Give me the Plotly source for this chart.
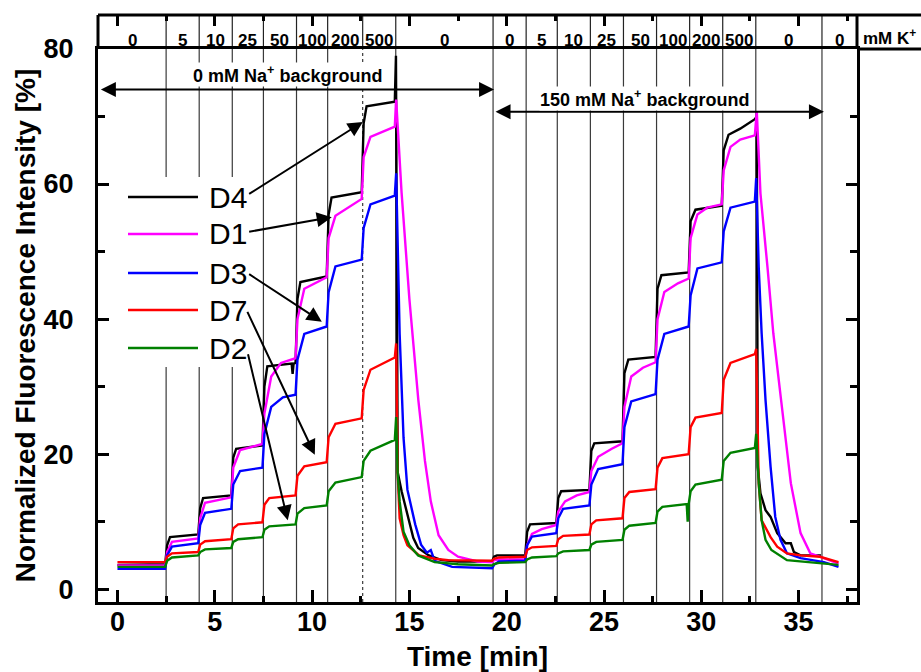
import plotly.graph_objects as go

# ---------------- data (time [min], normalized fluorescence [%]) ----------------
D4 = [(0, 3.6), (2.45, 3.7), (2.55, 6.5), (2.7, 7.7), (4.15, 8.1),
      (4.25, 12.0), (4.4, 13.5), (5.85, 13.9),
      (5.95, 19.5), (6.1, 20.8), (7.45, 21.3),
      (7.55, 30.0), (7.7, 33.0), (8.95, 33.4), (9.0, 31.9), (9.05, 33.4), (9.15, 33.5),
      (9.25, 43.0), (9.4, 45.5), (10.75, 46.3),
      (10.85, 55.5), (11.0, 58.0), (12.55, 58.8),
      (12.65, 69.0), (12.8, 71.5), (14.25, 72.2), (14.31, 79.0), (14.36, 20.0),
      (14.4, 17.3), (14.6, 14.5), (14.95, 10.5), (15.2, 7.6), (15.45, 6.1), (16.0, 5.0),
      (16.65, 4.3), (17.5, 4.1), (19.25, 4.1),
      (19.35, 4.8), (19.5, 5.0), (20.95, 5.0),
      (21.05, 8.5), (21.2, 9.6), (22.55, 9.8),
      (22.65, 13.5), (22.8, 14.5), (24.25, 14.7),
      (24.35, 20.5), (24.5, 21.6), (25.95, 21.9),
      (26.05, 32.0), (26.25, 34.0), (27.65, 34.4),
      (27.75, 44.5), (27.95, 46.5), (29.35, 46.9),
      (29.45, 54.5), (29.7, 56.2), (31.05, 56.8),
      (31.15, 65.0), (31.4, 67.3), (32.0, 68.2), (32.75, 69.6), (32.85, 70.0),
      (32.9, 18.1), (33.04, 14.2), (33.3, 11.7), (33.56, 10.7), (33.9, 8.3),
      (34.33, 6.8), (34.6, 6.8), (34.76, 5.5), (35.1, 5.0), (36.15, 5.0)]

D1 = [(0, 3.5), (2.45, 3.5), (2.55, 5.5), (2.8, 7.0), (4.15, 7.5),
      (4.25, 10.5), (4.5, 12.8), (5.85, 13.6),
      (5.95, 18.0), (6.3, 20.6), (7.45, 21.5),
      (7.55, 26.0), (7.9, 31.5), (8.4, 33.5), (9.15, 34.2),
      (9.25, 40.0), (9.6, 44.5), (10.75, 46.2),
      (10.85, 52.0), (11.2, 55.3), (12.55, 57.8),
      (12.65, 64.0), (13.0, 67.0), (14.25, 68.5), (14.32, 72.5),
      (14.45, 66.0), (14.6, 58.7), (15.0, 43.0), (15.46, 28.0), (15.8, 19.0),
      (16.1, 13.0), (16.5, 8.0), (17.0, 5.8), (17.5, 4.8), (18.5, 4.1), (19.25, 4.0),
      (19.35, 4.3), (19.6, 4.4), (20.95, 4.4),
      (21.05, 6.5), (21.3, 8.2), (21.8, 8.9), (22.55, 9.5),
      (22.65, 11.5), (23.0, 13.0), (23.6, 13.9), (24.25, 14.4),
      (24.35, 17.5), (24.7, 19.6), (25.4, 20.8), (25.95, 21.6),
      (26.05, 27.0), (26.4, 31.5), (27.0, 32.8), (27.65, 33.6),
      (27.75, 40.0), (28.1, 44.0), (28.8, 45.3), (29.35, 46.0),
      (29.45, 52.0), (29.8, 55.5), (30.3, 56.5), (31.05, 57.0),
      (31.15, 62.0), (31.5, 65.5), (32.0, 66.6), (32.75, 67.2), (32.85, 70.8),
      (33.04, 58.6), (33.4, 47.7), (33.7, 37.9), (34.1, 28.0), (34.6, 15.7),
      (35.1, 8.3), (35.6, 5.3), (36.3, 4.6), (37.05, 3.8)]

D3 = [(0, 3.0), (2.45, 3.0), (2.55, 5.0), (2.8, 6.3), (4.15, 6.8),
      (4.25, 9.5), (4.5, 11.3), (5.85, 11.9),
      (5.95, 15.5), (6.3, 17.5), (7.45, 18.0),
      (7.55, 23.0), (7.9, 27.0), (8.5, 28.4), (9.15, 28.8),
      (9.25, 34.0), (9.6, 37.8), (10.75, 38.9),
      (10.85, 44.0), (11.2, 47.8), (12.55, 48.8),
      (12.65, 53.5), (13.0, 57.0), (14.25, 58.3), (14.32, 61.6),
      (14.5, 37.8), (14.7, 22.4), (14.9, 14.7), (15.3, 9.6), (15.6, 6.6),
      (15.9, 5.4), (16.1, 5.8), (16.3, 4.2), (17.2, 3.3), (19.25, 3.1),
      (19.35, 3.6), (19.6, 4.1), (20.95, 4.2),
      (21.05, 6.5), (21.3, 7.8), (22.55, 8.3),
      (22.65, 10.5), (22.9, 11.9), (24.25, 12.4),
      (24.35, 15.5), (24.7, 17.8), (25.95, 18.5),
      (26.05, 24.0), (26.4, 27.8), (27.65, 28.9),
      (27.75, 34.0), (28.1, 37.8), (29.35, 38.9),
      (29.45, 43.5), (29.8, 47.5), (31.05, 48.4),
      (31.15, 53.0), (31.5, 56.5), (32.75, 57.4), (32.82, 60.9),
      (32.95, 47.7), (33.1, 37.9), (33.3, 28.0), (33.56, 18.1), (33.8, 10.7),
      (34.07, 7.3), (34.4, 5.3), (35.1, 4.6), (36.3, 4.0), (37.05, 3.3)]

D7 = [(0, 4.0), (2.45, 4.0), (2.55, 4.8), (2.8, 5.3), (4.15, 5.5),
      (4.25, 6.6), (4.5, 7.1), (5.85, 7.4),
      (5.95, 9.0), (6.2, 9.6), (7.45, 9.9),
      (7.55, 12.5), (7.8, 13.5), (9.15, 13.9),
      (9.25, 16.8), (9.6, 18.2), (10.75, 18.8),
      (10.85, 22.5), (11.2, 24.5), (12.55, 25.3),
      (12.65, 29.5), (13.0, 32.5), (14.25, 34.3), (14.32, 36.4),
      (14.4, 17.0), (14.5, 10.5), (14.7, 8.0), (14.9, 6.5), (15.5, 5.0),
      (16.3, 4.5), (17.0, 4.3), (19.25, 4.2),
      (19.35, 4.5), (19.6, 4.7), (20.95, 4.8),
      (21.05, 5.8), (21.3, 6.2), (22.55, 6.4),
      (22.65, 7.4), (22.9, 7.9), (24.25, 8.1),
      (24.35, 9.6), (24.6, 10.2), (25.95, 10.5),
      (26.05, 13.5), (26.3, 14.4), (27.65, 14.8),
      (27.75, 18.0), (28.0, 19.4), (29.35, 20.0),
      (29.45, 24.0), (29.7, 25.4), (31.05, 26.1),
      (31.15, 31.0), (31.5, 33.5), (32.75, 34.8), (32.82, 35.6),
      (32.95, 15.7), (33.1, 10.2), (33.3, 9.2), (33.56, 7.7), (33.9, 6.3),
      (34.4, 5.3), (35.1, 5.0), (36.1, 4.8), (37.05, 4.0)]

D2 = [(0, 3.3), (2.45, 3.3), (2.55, 4.2), (2.8, 4.7), (4.15, 5.0),
      (4.25, 5.5), (4.5, 5.9), (5.85, 6.1),
      (5.95, 7.0), (6.2, 7.4), (7.45, 7.7),
      (7.55, 8.8), (7.8, 9.3), (9.15, 9.6),
      (9.25, 11.2), (9.6, 12.0), (10.75, 12.4),
      (10.85, 14.5), (11.2, 15.8), (12.55, 16.6),
      (12.65, 19.0), (13.0, 20.5), (14.25, 22.1), (14.32, 25.5),
      (14.4, 17.0), (14.5, 13.0), (14.7, 8.5), (15.0, 6.5), (15.45, 5.0),
      (16.3, 4.0), (17.5, 3.7), (19.25, 3.5),
      (19.35, 3.7), (19.6, 3.9), (20.95, 4.0),
      (21.05, 4.4), (21.3, 4.7), (22.55, 4.9),
      (22.65, 5.3), (22.9, 5.6), (24.25, 5.8),
      (24.35, 6.6), (24.6, 7.0), (25.95, 7.3),
      (26.05, 8.8), (26.3, 9.4), (27.65, 9.8),
      (27.75, 11.5), (28.0, 12.2), (29.25, 12.6), (29.3, 10.0), (29.35, 12.6),
      (29.45, 14.5), (29.7, 15.5), (31.05, 16.2),
      (31.15, 19.0), (31.5, 20.2), (32.75, 20.9), (32.82, 23.0),
      (32.95, 15.7), (33.1, 10.2), (33.3, 7.3), (33.6, 5.8), (34.4, 4.3),
      (35.5, 4.0), (37.05, 3.6)]

series_names = ["D4", "D1", "D3", "D7", "D2"]
series_data = [D4, D1, D3, D7, D2]
series_colors = ["#000000", "#ff00ff", "#0000ff", "#ff0000", "#008000"]

# K+ concentration changes (solution switch times, min) and band labels (mM K+)
switch_times = [2.5, 4.2, 5.9, 7.5, 9.2, 10.8, 12.6, 14.3, 19.3,
                21.0, 22.6, 24.3, 26.0, 27.7, 29.4, 31.1, 32.8, 36.2]
k_labels = ["0", "5", "10", "25", "50", "100", "200", "500", "0",
            "0", "5", "10", "25", "50", "100", "200", "500", "0", "0"]

x_range = [-1.0, 38.0]
y_range = [-1.9, 80.0]

# ---------------- geometry helpers (pixels -> paper) ----------------
W, H = 921, 672
ML, MR, MT, MB = 98, 64, 15, 70
PW, PH = W - ML - MR, H - MT - MB
Y_TOP = 49  # pixel y of main plot top
DOM_TOP = (H - MB - Y_TOP) / PH


def px(x):
    return (x - ML) / PW


def py(y):
    return (H - MB - y) / PH


FONT = "Liberation Sans, Arial, sans-serif"

fig = go.Figure()
for name, data, col in zip(series_names, series_data, series_colors):
    t, v = zip(*data)
    fig.add_trace(go.Scatter(x=list(t), y=list(v), mode="lines", name=name,
                             line=dict(color=col, width=2.4), showlegend=False))
# empty trace so that the top (band) time axis gets drawn
fig.add_trace(go.Scatter(x=[], y=[], xaxis="x2", yaxis="y", showlegend=False, hoverinfo="skip"))

shapes = []
# separators in plot area and in the top band
for ts in switch_times:
    dotted = abs(ts - 12.6) < 1e-9
    shapes.append(dict(type="line", xref="x", yref="paper", x0=ts, x1=ts, y0=0, y1=DOM_TOP,
                       line=dict(color="#3a3a3a", width=1.2, dash="dot" if dotted else "solid"),
                       layer="below"))
    shapes.append(dict(type="line", xref="x", yref="paper", x0=ts, x1=ts, y0=DOM_TOP, y1=1,
                       line=dict(color="#222222", width=1.2), layer="below"))

# legend white box
shapes.append(dict(type="rect", xref="paper", yref="paper", x0=px(103), x1=px(251),
                   y0=py(367), y1=py(177), fillcolor="white", line=dict(width=0), layer="below"))

# band border lines
shapes += [
    dict(type="line", xref="paper", yref="paper", x0=0, x1=px(W + 2), y0=1, y1=1,
         line=dict(color="black", width=3)),
    dict(type="line", xref="paper", yref="paper", x0=1, x1=px(W + 2), y0=DOM_TOP, y1=DOM_TOP,
         line=dict(color="black", width=3)),
    dict(type="line", xref="paper", yref="paper", x0=0, x1=0, y0=DOM_TOP, y1=1,
         line=dict(color="black", width=3)),
    dict(type="line", xref="paper", yref="paper", x0=1, x1=1, y0=DOM_TOP, y1=1,
         line=dict(color="black", width=3)),
]

# manual legend sample lines
leg_y = [197, 234, 273, 310, 348]
for yy, col in zip(leg_y, series_colors):
    shapes.append(dict(type="line", xref="paper", yref="paper", x0=px(128), x1=px(198),
                       y0=py(yy), y1=py(yy), line=dict(color=col, width=2.5)))

annotations = []
for yy, name in zip(leg_y, series_names):
    annotations.append(dict(text=name, xref="paper", yref="paper", x=px(207), y=py(yy),
                            xanchor="left", yanchor="middle", showarrow=False,
                            font=dict(family=FONT, size=30, color="black")))

# band labels
edges = [x_range[0]] + switch_times + [x_range[1]]
for i, lab in enumerate(k_labels):
    xc = (edges[i] + edges[i + 1]) / 2
    annotations.append(dict(text=lab, xref="x", yref="paper", x=xc, y=py(40),
                            xanchor="center", yanchor="middle", showarrow=False,
                            font=dict(family=FONT, size=17, color="black", weight="bold")))
annotations.append(dict(text="mM K<sup>+</sup>", xref="paper", yref="paper", x=px(861), y=py(37),
                        xanchor="left", yanchor="middle", showarrow=False,
                        font=dict(family=FONT, size=17, color="black", weight="bold")))

# Na+ background double arrows and labels
annotations.append(dict(x=19.35, y=74.0, ax=-0.93, ay=74.0, xref="x", yref="y", axref="x", ayref="y",
                        text="", showarrow=True, arrowhead=2, arrowside="end+start",
                        arrowsize=1.5, arrowwidth=2, arrowcolor="black"))
annotations.append(dict(x=36.3, y=70.7, ax=19.35, ay=70.7, xref="x", yref="y", axref="x", ayref="y",
                        text="", showarrow=True, arrowhead=2, arrowside="end+start",
                        arrowsize=1.5, arrowwidth=2, arrowcolor="black"))
annotations.append(dict(text="0 mM Na<sup>+</sup> background", xref="x", yref="y", x=8.75, y=76.2,
                        showarrow=False, bgcolor="white", borderpad=0,
                        font=dict(family=FONT, size=18, color="black", weight="bold")))
annotations.append(dict(text="150 mM Na<sup>+</sup> background", xref="x", yref="y", x=27.1, y=72.7,
                        showarrow=False, bgcolor="white", borderpad=0,
                        font=dict(family=FONT, size=18, color="black", weight="bold")))

# legend pointer arrows (head <- tail)
pointers = [((12.61, 69.2), (6.69, 58.4)),
            ((11.01, 55.1), (6.69, 52.9)),
            ((10.5, 39.6), (6.69, 46.8)),
            ((10.14, 19.9), (6.64, 41.3)),
            ((8.75, 10.2), (6.69, 35.0))]
for (hx, hy), (tx, ty) in pointers:
    annotations.append(dict(x=hx, y=hy, ax=tx, ay=ty, xref="x", yref="y", axref="x", ayref="y",
                            text="", showarrow=True, arrowhead=2, arrowsize=1.5,
                            arrowwidth=2, arrowcolor="black"))

tickfont = dict(family=FONT, size=27, color="black", weight="bold")
titlefont = dict(family=FONT, size=28, color="black", weight="bold")

fig.update_layout(
    width=W, height=H,
    margin=dict(l=ML, r=MR, t=MT, b=MB, autoexpand=False),
    paper_bgcolor="white", plot_bgcolor="white",
    showlegend=False,
    shapes=shapes, annotations=annotations,
    xaxis=dict(range=x_range, tick0=0, dtick=5, ticks="inside", ticklen=12, tickwidth=3,
               tickcolor="black", showline=True, linewidth=3, linecolor="black", mirror=True,
               showgrid=False, zeroline=False, tickfont=tickfont, automargin=False,
               ticklabelstandoff=-6,
               minor=dict(dtick=2.5, ticks="inside", ticklen=6, tickwidth=3, tickcolor="black",
                          showgrid=False),
               title=dict(text="Time [min]", font=titlefont, standoff=10)),
    xaxis2=dict(range=x_range, overlaying="x", anchor="free", position=1, side="top",
                tick0=0, dtick=5, ticks="inside", ticklen=10, tickwidth=3, tickcolor="black",
                showticklabels=False, showline=False, showgrid=False, zeroline=False,
                automargin=False,
                minor=dict(dtick=2.5, ticks="inside", ticklen=5, tickwidth=3, tickcolor="black",
                           showgrid=False)),
    yaxis=dict(range=y_range, domain=[0, DOM_TOP], tick0=0, dtick=20, ticks="inside", ticklen=11,
               tickwidth=3, tickcolor="black", showline=True, linewidth=3, linecolor="black",
               mirror="ticks", showgrid=False, zeroline=False, tickfont=tickfont,
               ticklabelstandoff=16, automargin=False,
               minor=dict(dtick=10, ticks="inside", ticklen=7, tickwidth=3, tickcolor="black",
                          showgrid=False),
               title=dict(text="Normalized Fluorescence Intensity [%]", font=titlefont, standoff=0)),
)

fig.write_html("out.html")
